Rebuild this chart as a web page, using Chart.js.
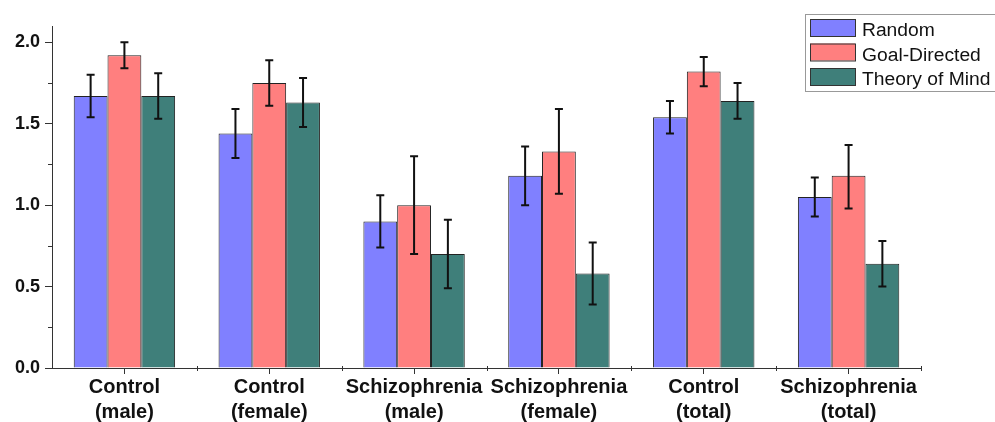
<!DOCTYPE html>
<html>
<head>
<meta charset="utf-8">
<script src="https://cdn.jsdelivr.net/npm/chart.js@4/dist/chart.umd.min.js"></script>
<style>
  html, body { margin: 0; padding: 0; background: #fff; }
  #wrap { width: 995px; height: 422px; }
</style>
</head>
<body>
<div id="wrap"><canvas id="myChart" width="995" height="422"></canvas></div>
<script>
const categories = [
  ["Control", "(male)"],
  ["Control", "(female)"],
  ["Schizophrenia", "(male)"],
  ["Schizophrenia", "(female)"],
  ["Control", "(total)"],
  ["Schizophrenia", "(total)"],
];
const seriesNames = ["Random", "Goal-Directed", "Theory of Mind"];
const randomVals = [1.67, 1.44, 0.9, 1.18, 1.54, 1.05];
const goalVals = [1.92, 1.75, 1.0, 1.33, 1.82, 1.18];
const tomVals = [1.67, 1.63, 0.7, 0.58, 1.64, 0.64];
// error bar ends (low, high)
const randomLow = [1.54, 1.29, 0.74, 1.0, 1.44, 0.93];
const randomHigh = [1.8, 1.59, 1.06, 1.36, 1.64, 1.17];
const goalLow = [1.84, 1.61, 0.7, 1.07, 1.73, 0.98];
const goalHigh = [2.0, 1.89, 1.3, 1.59, 1.91, 1.37];
const tomLow = [1.53, 1.48, 0.49, 0.39, 1.53, 0.5];
const tomHigh = [1.81, 1.78, 0.91, 0.77, 1.75, 0.78];
const yTicks = [0, 0.5, 1.0, 1.5, 2.0];
const yMinorTicks = [0.25, 0.75, 1.25, 1.75];

const colors = ["#8080ff", "#ff7f7f", "#3f7f7a"];
const ctx = document.getElementById("myChart").getContext("2d");

const errorBars = {
  id: "errorBars",
  afterDatasetsDraw(chart) {
    const c = chart.ctx;
    const y = chart.scales.y;
    c.save();
    c.strokeStyle = "#111";
    c.lineWidth = 2;
    chart.data.datasets.forEach((ds, i) => {
      const meta = chart.getDatasetMeta(i);
      meta.data.forEach((bar, j) => {
        const x = bar.x;
        const yl = y.getPixelForValue(ds.errLow[j]);
        const yh = y.getPixelForValue(ds.errHigh[j]);
        c.beginPath();
        c.moveTo(x, yl);
        c.lineTo(x, yh);
        c.moveTo(x - 4, yl);
        c.lineTo(x + 4, yl);
        c.moveTo(x - 4, yh);
        c.lineTo(x + 4, yh);
        c.stroke();
      });
    });
    c.restore();
  },
};

const extraTicks = {
  id: "extraTicks",
  afterDraw(chart) {
    const c = chart.ctx;
    const x = chart.scales.x;
    const y = chart.scales.y;
    c.save();
    c.strokeStyle = "#333";
    c.lineWidth = 1;
    c.beginPath();
    yMinorTicks.forEach((v) => {
      const py = Math.round(y.getPixelForValue(v)) + 0.5;
      c.moveTo(y.right - 4, py);
      c.lineTo(y.right, py);
    });
    for (let i = 0; i < categories.length; i++) {
      const px = Math.round(x.getPixelForValue(i) + (x.getPixelForValue(1) - x.getPixelForValue(0)) / 2) + 0.5;
      c.moveTo(px, x.top - 2);
      c.lineTo(px, x.top + 3);
    }
    c.stroke();

    // legend box
    const left = 805, top = 14;
    c.strokeStyle = "#999";
    c.strokeRect(left + 0.5, top + 0.5, 200, 77);
    chart.data.datasets.forEach((ds, i) => {
      const ry = 19 + i * 24.5;
      c.fillStyle = ds.backgroundColor;
      c.fillRect(810, ry, 45, 17);
      c.strokeStyle = "#333";
      c.strokeRect(810.5, ry + 0.5, 45, 17);
      c.save();
      c.translate(862, ry + 17);
      c.scale(1.07, 1);
      c.font = "18px 'Liberation Sans', Arial, sans-serif";
      c.textBaseline = "alphabetic";
      c.fillStyle = "#111";
      c.fillText(ds.label, 0, 0);
      c.restore();
    });
    c.restore();
  },
};

const datasets = [
  { label: seriesNames[0], data: randomVals, errLow: randomLow, errHigh: randomHigh },
  { label: seriesNames[1], data: goalVals, errLow: goalLow, errHigh: goalHigh },
  { label: seriesNames[2], data: tomVals, errLow: tomLow, errHigh: tomHigh },
].map((d, i) => ({
  ...d,
  backgroundColor: colors[i],
  borderColor: "#222",
  borderWidth: 1,
  categoryPercentage: 0.7,
  barPercentage: 1.0,
}));

const myChart = new Chart(ctx, {
  type: "bar",
  data: { labels: categories, datasets: datasets },
  plugins: [errorBars, extraTicks],
  options: {
    responsive: false,
    animation: false,
    layout: { padding: { left: 0, right: 74, top: 26, bottom: 0 } },
    plugins: { legend: { display: false }, tooltip: { enabled: false } },
    scales: {
      x: {
        grid: { display: true, drawOnChartArea: false, offset: false, tickLength: 6, color: "#333" },
        border: { color: "#333", width: 1 },
        ticks: {
          color: "#111",
          padding: 1,
          font: { family: "'Liberation Sans', Arial, sans-serif", size: 20, weight: "bold", lineHeight: 1.25 },
          maxRotation: 0,
          autoSkip: false,
        },
        afterFit(scale) { scale.height = 54; },
      },
      y: {
        min: 0,
        max: 2.1,
        afterBuildTicks(scale) { scale.ticks = yTicks.map((v) => ({ value: v })); },
        grid: { display: true, drawOnChartArea: false, tickLength: 7, color: "#333" },
        border: { color: "#333", width: 1 },
        ticks: {
          color: "#111",
          padding: 5,
          font: { family: "'Liberation Sans', Arial, sans-serif", size: 18, weight: "bold" },
          callback: (v) => Number(v).toFixed(1),
        },
        afterFit(scale) { scale.width = 52; },
      },
    },
  },
});
</script>
</body>
</html>
